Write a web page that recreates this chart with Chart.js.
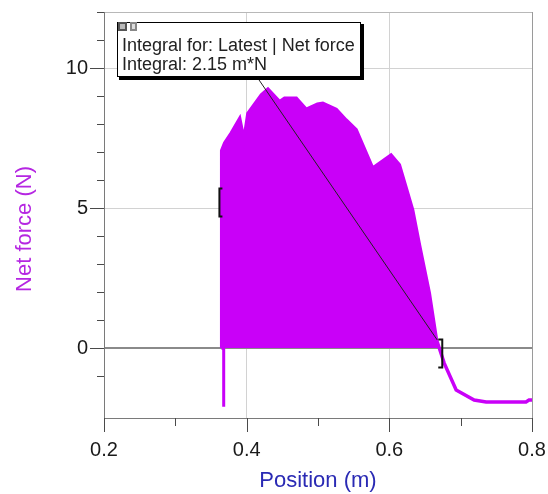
<!DOCTYPE html>
<html><head><meta charset="utf-8">
<script src="https://cdn.jsdelivr.net/npm/chart.js@4.4.1/dist/chart.umd.min.js"></script>
<style>html,body{margin:0;padding:0;background:#fff}#wrap{width:548px;height:494px;position:relative}</style>
</head><body><div id="wrap"><canvas id="c"></canvas></div>
<script>
// ---- data ----
const position = [0.3646, 0.3650, 0.3692, 0.3786, 0.3902, 0.3962, 0.4018, 0.4206, 0.4298, 0.4462,
                  0.4531, 0.4695, 0.4835, 0.4993, 0.5067, 0.5255, 0.5394, 0.5534, 0.5766, 0.6024,
                  0.6140, 0.6326, 0.6420, 0.6560, 0.6660, 0.6700, 0.6769, 0.6937, 0.7189, 0.7357,
                  0.7916, 0.7958, 0.8000];
const netForce = [0, 7.05, 7.32, 7.68, 8.19, 7.43, 8.38, 9.04, 9.24, 8.80,
                  8.92, 8.92, 8.52, 8.71, 8.74, 8.52, 8.14, 7.79, 6.42, 6.89,
                  6.54, 4.93, 3.70, 1.96, 0.30, 0.0, -0.54, -1.50, -1.86, -1.93,
                  -1.93, -1.86, -1.86];
const spikePosition = [0.3678, 0.3678];
const spikeForce = [0, -2.1];
const integralStart = 0.3646;
const integralEnd = 0.6700;
const bracketStartForce = 5.2;
const bracketEndForce = -0.2;
const xLabelTicks = [0.2, 0.4, 0.6, 0.8];
const yLabelTicks = [0, 5, 10];
const annotationLines = ['Integral for: Latest | Net force', 'Integral: 2.15 m*N'];

const PURPLE = '#c900f8';
const FONT = '"Liberation Sans", Arial, sans-serif';

const curve = position.map((p, i) => ({x: p, y: netForce[i]}));
const integralArea = curve.filter(pt => pt.x >= integralStart && pt.x <= integralEnd);
const spike = spikePosition.map((p, i) => ({x: p, y: spikeForce[i]}));

const isLab = (arr, v) => arr.some(a => Math.abs(a - v) < 1e-6);

const extras = {
  id: 'extras',
  afterDraw(chart) {
    const {ctx, chartArea: a, scales: {x, y}} = chart;
    ctx.save();
    // tick marks
    ctx.strokeStyle = '#4a4a4a'; ctx.lineWidth = 1;
    y.ticks.forEach(t => {
      if (Math.abs(t.value - Math.round(t.value)) > 1e-6) return;
      const p = Math.round(y.getPixelForValue(t.value)) + 0.5;
      const len = isLab(yLabelTicks, t.value) ? 14 : 7;
      ctx.beginPath(); ctx.moveTo(a.left - len, p); ctx.lineTo(a.left, p); ctx.stroke();
    });
    x.ticks.forEach(t => {
      const p = Math.round(x.getPixelForValue(t.value)) + 0.5;
      const len = isLab(xLabelTicks, t.value) ? 14 : 8;
      ctx.beginPath(); ctx.moveTo(p, a.bottom); ctx.lineTo(p, a.bottom + len); ctx.stroke();
    });
    // brackets
    ctx.strokeStyle = '#111'; ctx.lineWidth = 2;
    const bx1 = x.getPixelForValue(integralStart) - 2, by1 = y.getPixelForValue(bracketStartForce);
    ctx.beginPath(); ctx.moveTo(bx1 + 3, by1 - 14); ctx.lineTo(bx1, by1 - 14); ctx.lineTo(bx1, by1 + 14); ctx.lineTo(bx1 + 3, by1 + 14); ctx.stroke();
    const bx2 = x.getPixelForValue(integralEnd) + 3, by2 = y.getPixelForValue(bracketEndForce);
    ctx.beginPath(); ctx.moveTo(bx2 - 4, by2 - 14); ctx.lineTo(bx2, by2 - 14); ctx.lineTo(bx2, by2 + 14); ctx.lineTo(bx2 - 4, by2 + 14); ctx.stroke();
    // leader line
    ctx.strokeStyle = '#222'; ctx.lineWidth = 1;
    ctx.beginPath(); ctx.moveTo(257, 77); ctx.lineTo(x.getPixelForValue(integralEnd) - 2, y.getPixelForValue(0) - 8); ctx.stroke();
    // annotation box
    const bl = 117, bt = 22, bw = 244, bh = 55;
    ctx.fillStyle = '#000'; ctx.fillRect(bl + 2, bt + 2, bw + 1, bh + 1);
    ctx.fillStyle = '#fff'; ctx.fillRect(bl, bt, bw, bh);
    ctx.strokeStyle = '#000'; ctx.lineWidth = 1; ctx.strokeRect(bl + 0.5, bt + 0.5, bw - 1, bh - 1);
    ctx.fillStyle = '#555'; ctx.fillRect(118, 22, 9, 9);
    ctx.fillStyle = '#bbb'; ctx.fillRect(120, 24, 5, 5);
    ctx.fillStyle = '#888'; ctx.fillRect(130, 22, 7, 9);
    ctx.fillStyle = '#ddd'; ctx.fillRect(132, 24, 3, 5);
    ctx.fillStyle = '#222'; ctx.font = '18px ' + FONT; ctx.textAlign = 'left'; ctx.textBaseline = 'alphabetic';
    ctx.fillText(annotationLines[0], 122, 51);
    ctx.fillText(annotationLines[1], 122, 70);
    // y title
    ctx.translate(25, 229); ctx.rotate(-Math.PI / 2);
    ctx.fillStyle = '#b526e2'; ctx.font = '22px ' + FONT; ctx.textAlign = 'center'; ctx.textBaseline = 'middle';
    ctx.fillText('Net force (N)', 0, 0);
    ctx.restore();
  }
};

new Chart(document.getElementById('c'), {
  type: 'scatter',
  data: {
    datasets: [
      {label: 'Net force', data: curve, showLine: true, borderColor: PURPLE, borderWidth: 3.5, pointRadius: 0, fill: false, tension: 0},
      {label: 'Spike', data: spike, showLine: true, borderColor: PURPLE, borderWidth: 3, pointRadius: 0, fill: false},
      {label: 'Integral', data: integralArea, showLine: true, borderColor: PURPLE, borderWidth: 1, pointRadius: 0, fill: 'origin', backgroundColor: PURPLE, tension: 0}
    ]
  },
  options: {
    responsive: true, maintainAspectRatio: false, animation: false,
    layout: {padding: {top: 12, right: 16, left: 0, bottom: 0}},
    plugins: {legend: {display: false}, tooltip: {enabled: false}},
    scales: {
      x: {
        type: 'linear', min: 0.2, max: 0.8,
        afterFit: s => { s.height = 76; s.paddingLeft = 0; s.paddingRight = 0; },
        ticks: {stepSize: 0.1, autoSkip: false, maxRotation: 0, padding: 20, color: '#1a1a1a', font: {family: FONT, size: 20},
          callback: v => isLab(xLabelTicks, v) ? v.toFixed(1) : ''},
        grid: {drawTicks: false,
          color: c => { const v = c.tick.value; if (Math.abs(v - 0.8) < 1e-6) return '#9a9a9a'; return (Math.abs(v - 0.4) < 1e-6 || Math.abs(v - 0.6) < 1e-6) ? '#d2d2d2' : 'rgba(0,0,0,0)'; }},
        border: {color: '#7a7a7a', width: 1},
        title: {display: true, text: 'Position (m)', color: '#2a2ab4', font: {family: FONT, size: 22}, padding: 0}
      },
      y: {
        min: -2.5, max: 12,
        afterFit: s => { s.width = 104; s.paddingTop = 0; s.paddingBottom = 0; },
        ticks: {stepSize: 1, autoSkip: false, padding: 16, color: '#1a1a1a', font: {family: FONT, size: 20},
          callback: v => isLab(yLabelTicks, v) ? String(v) : ''},
        grid: {drawTicks: false,
          color: c => { const v = c.tick.value; if (Math.abs(v) < 1e-6) return '#8a8a8a'; if (Math.abs(v - 12) < 1e-6) return '#b8b8b8'; return (v === 5 || v === 10) ? '#d2d2d2' : 'rgba(0,0,0,0)'; },
          lineWidth: c => Math.abs(c.tick.value) < 1e-6 ? 2 : 1},
        border: {color: '#7a7a7a', width: 1},
        title: {display: false}
      }
    }
  },
  plugins: [extras]
});
</script>
</body></html>
